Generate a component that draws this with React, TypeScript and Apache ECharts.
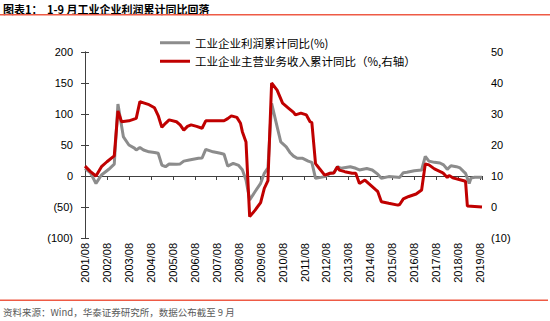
import React, { useEffect, useRef } from "react";
import * as echarts from "echarts";

const START_YEAR = 2001;
const START_MONTH = 8;

const xTickLabels = [
  "2001/08", "2002/08", "2003/08", "2004/08", "2005/08", "2006/08", "2007/08",
  "2008/08", "2009/08", "2010/08", "2011/08", "2012/08", "2013/08", "2014/08",
  "2015/08", "2016/08", "2017/08", "2018/08", "2019/08",
];

const yLeftTicks = [-100, -50, 0, 50, 100, 150, 200];
const yRightTicks = [-10, 0, 10, 20, 30, 40, 50];

const profitName = "工业企业利润累计同比(%)";
const revenueName = "工业企业主营业务收入累计同比（%,右轴）";

// 工业企业利润累计同比 (%)
const profitDates = [
  "2001/08", "2001/11", "2002/02", "2002/05", "2002/09", "2002/12",
  "2003/02", "2003/05", "2003/08", "2003/11", "2003/12",
  "2004/02", "2004/04", "2004/07", "2004/10", "2004/12",
  "2005/02", "2005/04", "2005/06", "2005/10", "2005/12",
  "2006/02", "2006/05", "2006/10", "2006/12",
  "2007/02", "2007/06", "2007/10", "2007/12",
  "2008/02", "2008/05", "2008/08", "2008/10", "2008/12",
  "2009/02", "2009/05", "2009/08", "2009/10", "2009/12",
  "2010/02", "2010/05", "2010/07", "2010/10", "2010/12",
  "2011/02", "2011/04", "2011/07", "2011/10", "2011/12",
  "2012/02", "2012/07", "2012/10", "2012/12",
  "2013/02", "2013/04", "2013/09", "2013/12",
  "2014/02", "2014/06", "2014/09", "2014/12",
  "2015/02", "2015/06", "2015/11", "2015/12",
  "2016/02", "2016/04", "2016/08", "2016/12",
  "2017/02", "2017/04", "2017/07", "2017/10", "2017/12",
  "2018/02", "2018/04", "2018/07", "2018/09", "2018/11", "2018/12",
  "2019/02", "2019/03", "2019/05", "2019/09",
];
const profitValues = [
  12, 5, -12, 1.6, 10.8, 19,
  116, 63, 50, 45, 42,
  46, 42, 39, 38, 36.6,
  17.7, 15, 19.4, 18.8, 19.5,
  24, 25.8, 28.5, 29,
  43, 39, 36.6, 35,
  16, 20.5, 17, 10, -6.5,
  -38.7, -25, -11.8, 4.3, 13,
  117, 79.5, 55, 47, 38,
  32, 28.5, 28.5, 24, 22,
  -3.8, -1, 4.3, 5.3,
  15, 12.4, 15, 12.4,
  9.7, 12, 9.7, 3,
  -3.7, -1, -2, -2.3,
  5.4, 6, 8.4, 9.7,
  31.5, 24, 22, 21, 18,
  10.8, 16.5, 15, 13, 7, 4.3,
  -12, -3.4, -2, -2,
];

// 工业企业主营业务收入累计同比 (%, 右轴)
const revenueDates = [
  "2001/08", "2001/11", "2002/02", "2002/05", "2002/08", "2002/12",
  "2003/02", "2003/04", "2003/08", "2003/12",
  "2004/02", "2004/04", "2004/07", "2004/10", "2004/12",
  "2005/02", "2005/04", "2005/06", "2005/10", "2005/12",
  "2006/02", "2006/04", "2006/06", "2006/09", "2006/12",
  "2007/02", "2007/08", "2007/12",
  "2008/02", "2008/04", "2008/07", "2008/09", "2008/10", "2008/12",
  "2009/02", "2009/05", "2009/08", "2009/10", "2009/12",
  "2010/02", "2010/05", "2010/08", "2010/11", "2010/12",
  "2011/02", "2011/03", "2011/06", "2011/09", "2011/11", "2011/12",
  "2012/02", "2012/04", "2012/07", "2012/10", "2012/12",
  "2013/02", "2013/03", "2013/06", "2013/10", "2013/12",
  "2014/02", "2014/05", "2014/07", "2014/11", "2014/12",
  "2015/02", "2015/06", "2015/11", "2015/12",
  "2016/02", "2016/05", "2016/09", "2016/12",
  "2017/02", "2017/04", "2017/07", "2017/11", "2017/12",
  "2018/02", "2018/03", "2018/05", "2018/09", "2018/12",
  "2019/01", "2019/09",
];
const revenueValues = [
  13.2, 11.4, 10, 13, 14.6, 16.5,
  31, 27.5, 27.8, 28.6,
  34, 33.6, 33, 32, 29.5,
  25.7, 27, 28.1, 27.5, 26.5,
  24.8, 26, 26.5, 26, 25.4,
  27.8, 27.8, 27.8,
  28.5, 29.4, 28.9, 27, 24.3, 21,
  -3.1, -1, 1.4, 6, 8.5,
  40, 37.7, 33.5, 32, 31.5,
  30.5, 29.7, 30.3, 29.7, 27.5, 27.2,
  14, 12.5, 10.3, 10.9, 11,
  13, 11.9, 11.4, 10.9, 10.9,
  7.6, 8.7, 7.6, 5.5, 5,
  1.7, 1.2, 0.6, 0.8,
  2.6, 3.4, 4.2, 5.5,
  13.9, 13.6, 12.3, 11.2, 10.8,
  9.5, 10.2, 9.4, 8.8, 8.3,
  0.3, 0,
];

const monthIndex = (d: string) => {
  const [y, m] = d.split("/").map(Number);
  return (y - START_YEAR) * 12 + (m - START_MONTH);
};

const X_MAX = monthIndex("2019/09");

const fmtNeg = (v: number) => (v < 0 ? `(${-v})` : `${v}`);

export default function App() {
  const ref = useRef<HTMLDivElement>(null);

  useEffect(() => {
    if (!ref.current) return;
    const chart = echarts.init(ref.current, undefined, { renderer: "svg" });

    const profitData = profitDates.map((d, i) => [monthIndex(d), profitValues[i]]);
    const revenueData = revenueDates.map((d, i) => [monthIndex(d), revenueValues[i]]);

    const axisColor = "#404040";
    const labelFont = { fontSize: 11, fontFamily: "Liberation Sans, Arial, sans-serif", color: "#000" };
    const cjk = "'Noto Sans CJK SC', sans-serif";

    chart.setOption({
      animation: false,
      backgroundColor: "#fff",
      grid: { left: 85, right: 68, top: 52, bottom: 83, containLabel: false },
      legend: [
        {
          data: [{ name: profitName }],
          left: 160,
          top: 37,
          padding: 0,
          icon: "rect",
          itemWidth: 30,
          itemHeight: 3,
          textStyle: { fontSize: 11.5, fontFamily: cjk, color: "#000" },
        },
        {
          data: [{ name: revenueName }],
          left: 160,
          top: 55.5,
          padding: 0,
          icon: "rect",
          itemWidth: 30,
          itemHeight: 3,
          textStyle: { fontSize: 11.5, fontFamily: cjk, color: "#000" },
        },
      ],
      xAxis: [
        {
          type: "value",
          min: 0,
          max: X_MAX,
          interval: 12,
          position: "bottom",
          axisLine: { show: false, onZero: false },
          axisTick: { show: false },
          splitLine: { show: false },
          axisLabel: {
            ...labelFont,
            rotate: 90,
            margin: 5,
            showMaxLabel: false,
            formatter: (v: number) => (v % 12 === 0 ? xTickLabels[v / 12] ?? "" : ""),
          },
        },
        {
          type: "value",
          min: 0,
          max: X_MAX,
          interval: 12,
          position: "top",
          axisLine: { show: true, onZero: true, onZeroAxisIndex: 0, lineStyle: { color: axisColor, width: 1 } },
          axisTick: { show: true, inside: true, length: 4, lineStyle: { color: axisColor } },
          axisLabel: { show: false },
          splitLine: { show: false },
        },
      ],
      yAxis: [
        {
          type: "value",
          min: yLeftTicks[0],
          max: yLeftTicks[yLeftTicks.length - 1],
          interval: 50,
          position: "left",
          axisLine: { show: true, lineStyle: { color: axisColor, width: 1 } },
          axisTick: { show: true, length: 4, lineStyle: { color: axisColor } },
          splitLine: { show: false },
          axisLabel: { ...labelFont, margin: 12, formatter: fmtNeg },
        },
        {
          type: "value",
          min: yRightTicks[0],
          max: yRightTicks[yRightTicks.length - 1],
          interval: 10,
          position: "right",
          axisLine: { show: true, lineStyle: { color: axisColor, width: 1 } },
          axisTick: { show: true, length: 4, lineStyle: { color: axisColor } },
          splitLine: { show: false },
          axisLabel: { ...labelFont, margin: 9, formatter: fmtNeg },
        },
      ],
      series: [
        {
          name: profitName,
          type: "line",
          xAxisIndex: 0,
          yAxisIndex: 0,
          data: profitData,
          showSymbol: false,
          symbol: "none",
          color: "#8C8C8C",
          lineStyle: { color: "#8C8C8C", width: 3 },
        },
        {
          name: revenueName,
          type: "line",
          xAxisIndex: 0,
          yAxisIndex: 1,
          data: revenueData,
          showSymbol: false,
          symbol: "none",
          color: "#C00000",
          lineStyle: { color: "#C00000", width: 3 },
        },
      ],
      graphic: [
        {
          type: "text",
          left: 3,
          top: 3,
          style: { text: "图表1：", fontSize: 11, fontWeight: "bold", fontFamily: cjk, fill: "#000" },
        },
        {
          type: "text",
          left: 47,
          top: 3,
          style: { text: "1-9 月工业企业利润累计同比回落", fontSize: 11, fontWeight: "bold", fontFamily: cjk, fill: "#000" },
        },
        {
          type: "rect",
          shape: { x: 0, y: 14, width: 550, height: 1.5 },
          style: { fill: "#EE5A45" },
        },
        {
          type: "rect",
          shape: { x: 0, y: 299.5, width: 548, height: 1.5 },
          style: { fill: "#EE5A45" },
        },
        {
          type: "text",
          left: 3,
          top: 307,
          style: { text: "资料来源：Wind，华泰证券研究所，数据公布截至 9 月", fontSize: 9.5, fontFamily: cjk, fill: "#595959" },
        },
      ],
    });

    return () => chart.dispose();
  }, []);

  return (
    <div
      ref={ref}
      style={{ position: "fixed", left: 0, top: 0, width: 550, height: 321 }}
    />
  );
}
